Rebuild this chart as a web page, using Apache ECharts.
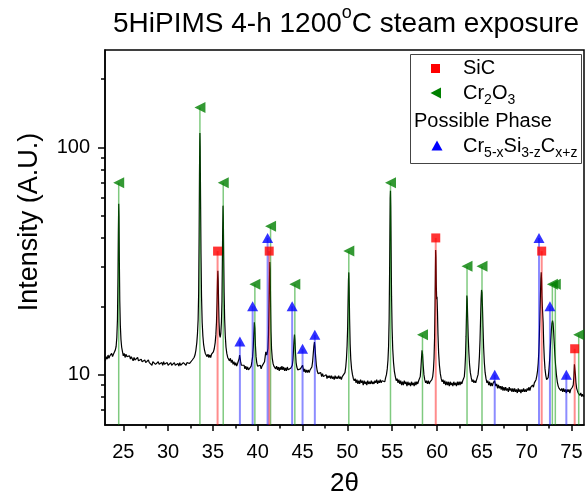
<!DOCTYPE html>
<html><head><meta charset="utf-8">
<script src="https://cdn.jsdelivr.net/npm/echarts@6/dist/echarts.min.js"></script>
<style>html,body{margin:0;padding:0;background:#fff}#c{width:586px;height:497px}</style>
</head><body><div id="c"></div>
<script>
// XRD pattern: [2theta, intensity]
const pattern = [
[23.0,11.5],[23.1,12.0],[23.2,11.7],[23.3,12.2],[23.4,11.8],[23.5,12.1],[23.6,11.9],[23.7,12.4],[23.8,12.0],[23.9,12.3],
[24.0,12.2],[24.1,12.8],[24.2,13.3],[24.28,14.6],[24.35,17.5],[24.41,27],[24.45,42],[24.49,56.6],[24.52,50],[24.56,32],
[24.61,21],[24.67,16.5],[24.74,14.3],[24.82,13.2],[24.9,12.7],[25.0,12.1],[25.1,12.4],[25.2,11.9],[25.3,12.3],[25.4,12.0],
[25.5,12.2],[25.6,11.8],[25.7,12.1],[25.8,11.7],[25.9,12.0],[26.0,11.8],[26.1,11.5],[26.2,11.9],[26.3,11.6],[26.4,11.8],
[26.5,11.4],[26.6,11.9],[26.7,11.5],[26.8,11.7],[26.9,11.3],[27.0,11.7],[27.1,11.4],[27.2,11.6],[27.3,11.2],[27.4,11.6],
[27.5,11.3],[27.6,11.5],[27.7,11.1],[27.8,11.6],[27.9,11.3],[28.0,11.2],[28.1,11.5],[28.2,11.0],[28.3,11.4],[28.4,11.2],
[28.5,11.5],[28.6,11.1],[28.7,11.3],[28.8,11.0],[28.9,11.4],[29.0,11.1],[29.1,11.3],[29.2,10.9],[29.3,11.3],[29.4,11.0],
[29.5,11.4],[29.6,11.1],[29.7,11.2],[29.8,10.9],[29.9,11.3],[30.0,11.0],[30.1,11.2],[30.2,10.8],[30.3,11.3],[30.4,11.0],
[30.5,11.2],[30.6,10.9],[30.7,11.3],[30.8,11.0],[30.9,11.1],[31.0,10.8],[31.1,11.2],[31.2,10.9],[31.3,11.3],[31.4,11.0],
[31.5,11.2],[31.6,10.9],[31.7,11.3],[31.8,11.1],[31.9,11.4],[32.0,11.0],[32.1,11.3],[32.2,11.1],[32.3,11.5],[32.4,11.2],
[32.5,11.4],[32.6,11.3],[32.7,11.6],[32.8,11.5],[32.9,11.9],[33.0,12.2],[33.1,12.8],[33.2,13.8],[33.28,15.2],[33.35,17.5],
[33.41,23],[33.46,40],[33.5,75],[33.53,105],[33.55,116],[33.58,100],[33.62,60],[33.67,34],[33.73,22],[33.8,17],
[33.88,14.8],[33.96,13.6],[34.05,12.9],[34.15,12.4],[34.25,12.5],[34.35,12.0],[34.45,12.3],[34.55,11.9],[34.65,12.2],[34.75,11.9],
[34.85,12.3],[34.95,12.2],[35.05,12.6],[35.15,13.0],[35.25,13.8],[35.33,15],[35.4,17],[35.46,21],[35.51,26],[35.55,28.7],
[35.59,26],[35.63,21],[35.68,17],[35.74,15],[35.81,14.6],[35.88,15.2],[35.95,17],[36.01,21],[36.05,30],[36.09,44],
[36.13,55.5],[36.16,50],[36.2,34],[36.25,23],[36.31,17.5],[36.38,14.8],[36.46,13.2],[36.55,12.4],[36.65,11.9],[36.75,12.0],
[36.85,11.5],[36.95,11.8],[37.05,11.3],[37.15,11.6],[37.25,11.1],[37.35,11.4],[37.45,11.0],[37.55,11.3],[37.65,10.9],[37.75,11.2],
[37.85,11.3],[37.93,11.8],[37.98,12.2],[38.03,12.0],[38.09,11.4],[38.17,11.0],[38.27,11.2],[38.37,10.8],[38.47,11.0],[38.57,10.6],
[38.67,10.9],[38.77,10.5],[38.87,10.8],[38.97,10.5],[39.07,10.7],[39.17,10.5],[39.27,10.9],[39.35,11.4],[39.43,12.0],[39.5,13.2],
[39.56,15],[39.62,17],[39.68,16],[39.74,13.5],[39.81,12],[39.89,11.3],[39.98,10.9],[40.08,11.1],[40.18,10.7],[40.28,11.0],
[40.38,10.6],[40.48,10.9],[40.58,10.7],[40.68,11.1],[40.76,11.4],[40.83,12.0],[40.9,12.6],[40.95,12.8],[41.01,12.2],[41.08,12.0],
[41.14,13.0],[41.2,15],[41.25,19],[41.3,25],[41.35,31.3],[41.39,29],[41.43,21],[41.48,15.5],[41.54,13],[41.62,11.8],
[41.71,11.2],[41.8,10.9],[41.9,11.1],[42.0,10.6],[42.1,10.9],[42.2,10.5],[42.3,10.8],[42.4,10.4],[42.5,10.8],[42.6,10.5],
[42.7,10.9],[42.8,10.5],[42.9,10.8],[43.0,10.4],[43.1,10.7],[43.2,10.4],[43.3,10.8],[43.4,10.5],[43.5,10.7],[43.6,10.4],
[43.7,10.7],[43.78,10.6],[43.86,11.0],[43.93,11.6],[43.99,12.8],[44.05,14.2],[44.1,15],[44.15,14.2],[44.21,12.5],[44.28,11.3],
[44.36,10.8],[44.46,10.5],[44.56,10.7],[44.66,10.3],[44.76,10.6],[44.86,10.4],[44.94,10.8],[45.0,11.0],[45.06,10.7],[45.14,10.3],
[45.24,10.6],[45.34,10.2],[45.44,10.5],[45.54,10.2],[45.64,10.5],[45.74,10.2],[45.84,10.5],[45.94,10.4],[46.04,10.8],[46.12,11.4],
[46.19,12.3],[46.26,13.3],[46.33,13.9],[46.39,13.2],[46.46,12.0],[46.54,11.0],[46.63,10.4],[46.73,10.1],[46.83,10.3],[46.93,9.9],
[47.03,10.2],[47.13,9.8],[47.23,10.1],[47.33,9.8],[47.43,10.0],[47.53,9.7],[47.63,10.0],[47.73,9.6],[47.83,9.9],[47.93,9.7],
[48.03,9.9],[48.13,9.6],[48.23,9.9],[48.33,9.6],[48.43,9.8],[48.53,9.5],[48.63,9.9],[48.73,9.6],[48.83,9.8],[48.93,9.6],
[49.03,9.9],[49.13,9.6],[49.23,9.8],[49.33,9.5],[49.43,9.8],[49.53,9.7],[49.63,9.9],[49.73,10.2],[49.82,10.8],[49.9,11.8],
[49.97,13.4],[50.03,16],[50.08,21],[50.12,26],[50.16,28.2],[50.2,24],[50.25,17.5],[50.31,13.6],[50.38,11.7],[50.47,10.6],
[50.57,10.0],[50.67,9.6],[50.77,9.4],[50.87,9.6],[50.97,9.2],[51.07,9.5],[51.17,9.1],[51.27,9.4],[51.37,9.1],[51.47,9.5],
[51.57,9.2],[51.67,9.4],[51.77,9.0],[51.87,9.4],[51.97,9.1],[52.07,9.3],[52.17,9.0],[52.27,9.4],[52.37,9.1],[52.47,9.3],
[52.57,9.1],[52.67,9.4],[52.77,9.1],[52.87,9.3],[52.97,9.1],[53.07,9.4],[53.17,9.2],[53.27,9.5],[53.37,9.1],[53.47,9.4],
[53.57,9.2],[53.67,9.5],[53.77,9.2],[53.87,9.4],[53.97,9.3],[54.07,9.5],[54.17,9.3],[54.27,9.7],[54.36,10.0],[54.45,10.6],
[54.53,11.6],[54.6,13.4],[54.66,17.5],[54.71,28],[54.75,45],[54.78,60],[54.81,64.6],[54.84,55],[54.88,36],[54.93,22],
[54.99,16],[55.06,13],[55.15,11.3],[55.25,10.3],[55.35,9.8],[55.45,9.4],[55.55,9.6],[55.65,9.2],[55.75,9.5],[55.85,9.1],
[55.95,9.4],[56.05,9.0],[56.15,9.3],[56.25,9.0],[56.35,9.4],[56.45,9.1],[56.55,9.3],[56.65,8.9],[56.75,9.3],[56.85,9.0],
[56.95,9.2],[57.05,8.9],[57.15,9.3],[57.25,9.0],[57.35,9.2],[57.45,8.9],[57.55,9.3],[57.65,9.0],[57.75,9.3],[57.85,9.1],
[57.95,9.4],[58.05,9.3],[58.13,9.8],[58.2,10.6],[58.27,11.8],[58.33,12.8],[58.39,12.3],[58.46,11.0],[58.54,10.0],[58.63,9.5],
[58.73,9.2],[58.83,9.4],[58.93,9.1],[59.03,9.4],[59.13,9.1],[59.23,9.3],[59.33,9.2],[59.43,9.5],[59.52,9.8],[59.6,10.5],
[59.67,11.8],[59.73,14.5],[59.78,20],[59.82,28],[59.85,35.4],[59.88,33],[59.92,25],[59.96,21.5],[60.0,22],[60.05,19],
[60.11,15],[60.18,12.5],[60.27,11.0],[60.37,10.1],[60.47,9.6],[60.57,9.3],[60.67,9.5],[60.77,9.1],[60.87,9.4],[60.97,9.0],
[61.07,9.3],[61.17,9.0],[61.27,9.3],[61.37,8.9],[61.47,9.3],[61.57,9.0],[61.67,9.2],[61.77,8.9],[61.87,9.3],[61.97,9.0],
[62.07,9.2],[62.17,8.9],[62.27,9.3],[62.37,9.0],[62.47,9.3],[62.57,9.0],[62.67,9.3],[62.77,9.1],[62.87,9.4],[62.97,9.4],
[63.05,9.8],[63.12,10.7],[63.18,12.0],[63.24,14.7],[63.29,18.5],[63.33,22.3],[63.37,21.5],[63.42,18],[63.48,14.8],[63.55,12.6],
[63.63,11.1],[63.72,10.2],[63.82,9.7],[63.92,9.3],[64.02,9.5],[64.12,9.2],[64.22,9.4],[64.32,9.2],[64.42,9.5],[64.5,9.6],
[64.58,10.0],[64.66,10.8],[64.73,12.0],[64.8,14.2],[64.86,17.5],[64.92,21.5],[64.97,23.6],[65.02,23],[65.07,20],[65.13,16.3],
[65.2,13.2],[65.28,11.3],[65.37,10.2],[65.47,9.6],[65.57,9.2],[65.67,9.4],[65.77,9.0],[65.87,9.3],[65.97,8.9],[66.07,9.2],
[66.17,8.9],[66.27,9.2],[66.35,9.1],[66.42,9.4],[66.48,9.3],[66.56,8.9],[66.66,9.1],[66.76,8.7],[66.86,9.0],[66.96,8.7],
[67.06,8.9],[67.16,8.6],[67.26,8.9],[67.36,8.5],[67.46,8.8],[67.56,8.5],[67.66,8.8],[67.76,8.5],[67.86,8.7],[67.96,8.4],
[68.06,8.8],[68.16,8.5],[68.26,8.7],[68.36,8.4],[68.46,8.7],[68.56,8.4],[68.66,8.7],[68.76,8.4],[68.86,8.6],[68.96,8.3],
[69.06,8.7],[69.16,8.4],[69.26,8.6],[69.36,8.3],[69.46,8.6],[69.56,8.4],[69.66,8.7],[69.76,8.4],[69.86,8.6],[69.96,8.4],
[70.06,8.7],[70.16,8.5],[70.26,8.8],[70.36,8.5],[70.46,8.8],[70.56,8.7],[70.66,9.0],[70.76,8.8],[70.86,9.2],[70.96,9.3],
[71.05,9.5],[71.14,9.9],[71.22,10.4],[71.29,11.2],[71.36,12.6],[71.42,14.8],[71.48,18],[71.54,22.5],[71.59,26.5],[71.63,28.2],
[71.67,26],[71.71,22],[71.75,20],[71.79,19.8],[71.84,17],[71.9,13.8],[71.97,11.8],[72.05,10.6],[72.14,9.9],[72.23,9.5],
[72.32,9.4],[72.4,9.7],[72.47,10.3],[72.54,11.2],[72.61,12.5],[72.68,14],[72.75,15.5],[72.82,16.8],[72.89,17.3],[72.95,16.8],
[73.01,15.5],[73.08,13.8],[73.15,12.2],[73.23,11.0],[73.32,10.0],[73.42,9.3],[73.52,8.9],[73.62,8.7],[73.72,8.8],[73.82,8.5],
[73.92,8.7],[74.02,8.4],[74.12,8.7],[74.22,8.4],[74.32,8.6],[74.42,8.3],[74.52,8.6],[74.62,8.4],[74.72,8.6],[74.82,8.3],
[74.92,8.6],[75.02,8.5],[75.1,8.8],[75.2,9.0],[75.27,9.8],[75.33,11.1],[75.38,11.0],[75.44,10.0],[75.5,9.2],[75.58,8.7],
[75.66,8.5],[75.75,8.3],[75.84,8.4],[75.94,8.1],[76.04,8.3],[76.14,8.0],[76.24,8.2],[76.34,8.0],[76.4,8.1]
];
// Reference peak markers: [2theta, marker height]
const sicPeaks = [[35.52,35],[41.28,35],[59.86,40],[71.68,35],[75.36,13]];
const cr2o3Peaks = [[24.49,70],[33.55,150],[36.15,70],[39.68,25],[41.43,45],[44.14,25],[50.16,35],[54.81,70],[58.38,15],[63.35,30],[65.02,30],[72.87,25],[73.2,25],[75.81,15]];
const crsicPeaks = [[38.01,14],[39.43,20],[41.10,40],[43.84,20],[45.0,13],[46.37,15],[66.44,10],[71.38,40],[72.6,20],[74.43,10]];
const xTicks = [25,30,35,40,45,50,55,60,65,70,75];
const xMinorTicks = [27.5,32.5,37.5,42.5,47.5,52.5,57.5,62.5,67.5,72.5];
const yTicks = [10,100];
const yMinorTicks = [7,8,9,20,30,40,50,60,70,80,90,200];
const xMin = 22.96, xMax = 76.4, yMin = 6, yMax = 269;

const FONT = '"Liberation Sans", Arial, sans-serif';
const chart = echarts.init(document.getElementById('c'), null, {renderer:'canvas'});

function stems(data, color, width) {
  return {
    type: 'custom', data: data, z: 3, silent: true, clip: true,
    encode: {x: 0, y: 1},
    renderItem: function (params, api) {
      const p1 = api.coord([api.value(0), api.value(1)]);
      const p2 = api.coord([api.value(0), yMin]);
      return {type: 'line', shape: {x1: p1[0], y1: p1[1], x2: p2[0], y2: p2[1]},
              style: {stroke: color, lineWidth: width}};
    }
  };
}

const axisCommon = {min: xMin, max: xMax, splitLine: {show: false}};
chart.setOption({
  animation: false,
  grid: {left: 105, right: 2, top: 50, bottom: 72, show: true, borderColor: '#000', borderWidth: 1.5, backgroundColor: 'transparent'},
  xAxis: [
    Object.assign({type: 'value', position: 'bottom',
      axisLine: {show: true, lineStyle: {color: '#000', width: 1.5}},
      axisTick: {show: true, inside: false, length: 6, lineStyle: {color: '#000', width: 1.5}, customValues: xTicks},
      axisLabel: {show: true, customValues: xTicks, color: '#000', fontSize: 20, fontFamily: FONT, margin: 17}
    }, axisCommon),
    Object.assign({type: 'value', position: 'bottom',
      axisLine: {show: false},
      axisTick: {show: true, inside: false, length: 3.5, lineStyle: {color: '#000', width: 1.5}, customValues: xMinorTicks},
      axisLabel: {show: false}
    }, axisCommon)
  ],
  yAxis: [
    {type: 'log', logBase: 10, min: yMin, max: yMax, position: 'left', splitLine: {show: false},
      axisLine: {show: true, lineStyle: {color: '#000', width: 1.5}},
      axisTick: {show: true, inside: false, length: 7, lineStyle: {color: '#000', width: 1.5}, customValues: yTicks},
      axisLabel: {show: true, customValues: yTicks, color: '#000', fontSize: 20, fontFamily: FONT, margin: 15},
      minorTick: {show: false}
    },
    {type: 'log', logBase: 10, min: yMin, max: yMax, position: 'left', splitLine: {show: false},
      axisLine: {show: false},
      axisTick: {show: true, inside: false, length: 4, lineStyle: {color: '#000', width: 1.5}, customValues: yMinorTicks},
      axisLabel: {show: false}, minorTick: {show: false}
    }
  ],
  series: [
    {type: 'line', data: pattern, showSymbol: false, symbol: 'none', z: 2, silent: true,
     lineStyle: {color: '#000', width: 1.2}, xAxisIndex: 0, yAxisIndex: 0},
    stems(cr2o3Peaks, 'rgba(0,150,0,0.5)', 1.5),
    stems(sicPeaks, 'rgba(255,0,0,0.45)', 2),
    stems(crsicPeaks, 'rgba(0,0,255,0.45)', 2),
    {type: 'scatter', data: sicPeaks, symbol: 'rect', symbolSize: 9, z: 5, silent: true,
     itemStyle: {color: '#ff0000'}},
    {type: 'scatter', data: cr2o3Peaks, symbol: 'triangle', symbolSize: [11, 11], symbolRotate: 90, z: 5, silent: true,
     itemStyle: {color: '#008000'}},
    {type: 'scatter', data: crsicPeaks, symbol: 'triangle', symbolSize: [11, 10], z: 5, silent: true,
     itemStyle: {color: '#0000ff'}}
  ],
  graphic: [
    {type: 'text', x: 346, y: 21, z: 10,
     style: {text: '{a|5HiPIMS 4-h 1200}{s|o}{a|C steam exposure}', align: 'center', verticalAlign: 'middle',
       textAlign: 'center', textVerticalAlign: 'middle', fill: '#000',
       rich: {a: {fontSize: 28, fontFamily: FONT, lineHeight: 34, fill: '#000', verticalAlign: 'bottom'},
              s: {fontSize: 18, fontFamily: FONT, lineHeight: 18, fill: '#000', verticalAlign: 'top'}}}},
    {type: 'text', x: 30, y: 222, rotation: Math.PI / 2, z: 10,
     style: {text: 'Intensity (A.U.)', font: '27px ' + FONT, fill: '#000', align: 'center', verticalAlign: 'middle',
       textAlign: 'center', textVerticalAlign: 'middle'}},
    {type: 'text', x: 344.5, y: 484, z: 10,
     style: {text: '2θ', font: '26px ' + FONT, fill: '#000', align: 'center', verticalAlign: 'middle',
       textAlign: 'center', textVerticalAlign: 'middle'}},
    {type: 'rect', z: 10, shape: {x: 410.5, y: 54.5, width: 171, height: 109},
     style: {fill: '#fff', stroke: '#444', lineWidth: 1}},
    {type: 'rect', z: 11, shape: {x: 431, y: 64, width: 9, height: 9}, style: {fill: '#ff0000'}},
    {type: 'polygon', z: 11, shape: {points: [[430.5, 93], [441, 87.5], [441, 98.5]]}, style: {fill: '#008000'}},
    {type: 'polygon', z: 11, shape: {points: [[437, 140.5], [442.5, 150.5], [431.5, 150.5]]}, style: {fill: '#0000ff'}},
    {type: 'text', x: 463, y: 68, z: 11,
     style: {text: 'SiC', font: '20px ' + FONT, fill: '#000', verticalAlign: 'middle', textVerticalAlign: 'middle'}},
    {type: 'text', x: 463, y: 95, z: 11,
     style: {text: '{a|Cr}{b|2}{a|O}{b|3}', verticalAlign: 'middle', textVerticalAlign: 'middle', fill: '#000',
       rich: {a: {fontSize: 20, fontFamily: FONT, lineHeight: 24, fill: '#000', verticalAlign: 'top'},
              b: {fontSize: 14, fontFamily: FONT, lineHeight: 14, fill: '#000', verticalAlign: 'bottom'}}}},
    {type: 'text', x: 414, y: 121, z: 11,
     style: {text: 'Possible Phase', font: '20px ' + FONT, fill: '#000', verticalAlign: 'middle', textVerticalAlign: 'middle'}},
    {type: 'text', x: 463, y: 148, z: 11,
     style: {text: '{a|Cr}{b|5-x}{a|Si}{b|3-z}{a|C}{b|x+z}', verticalAlign: 'middle', textVerticalAlign: 'middle', fill: '#000',
       rich: {a: {fontSize: 20, fontFamily: FONT, lineHeight: 24, fill: '#000', verticalAlign: 'top'},
              b: {fontSize: 14, fontFamily: FONT, lineHeight: 14, fill: '#000', verticalAlign: 'bottom'}}}}
  ]
});
</script></body></html>
